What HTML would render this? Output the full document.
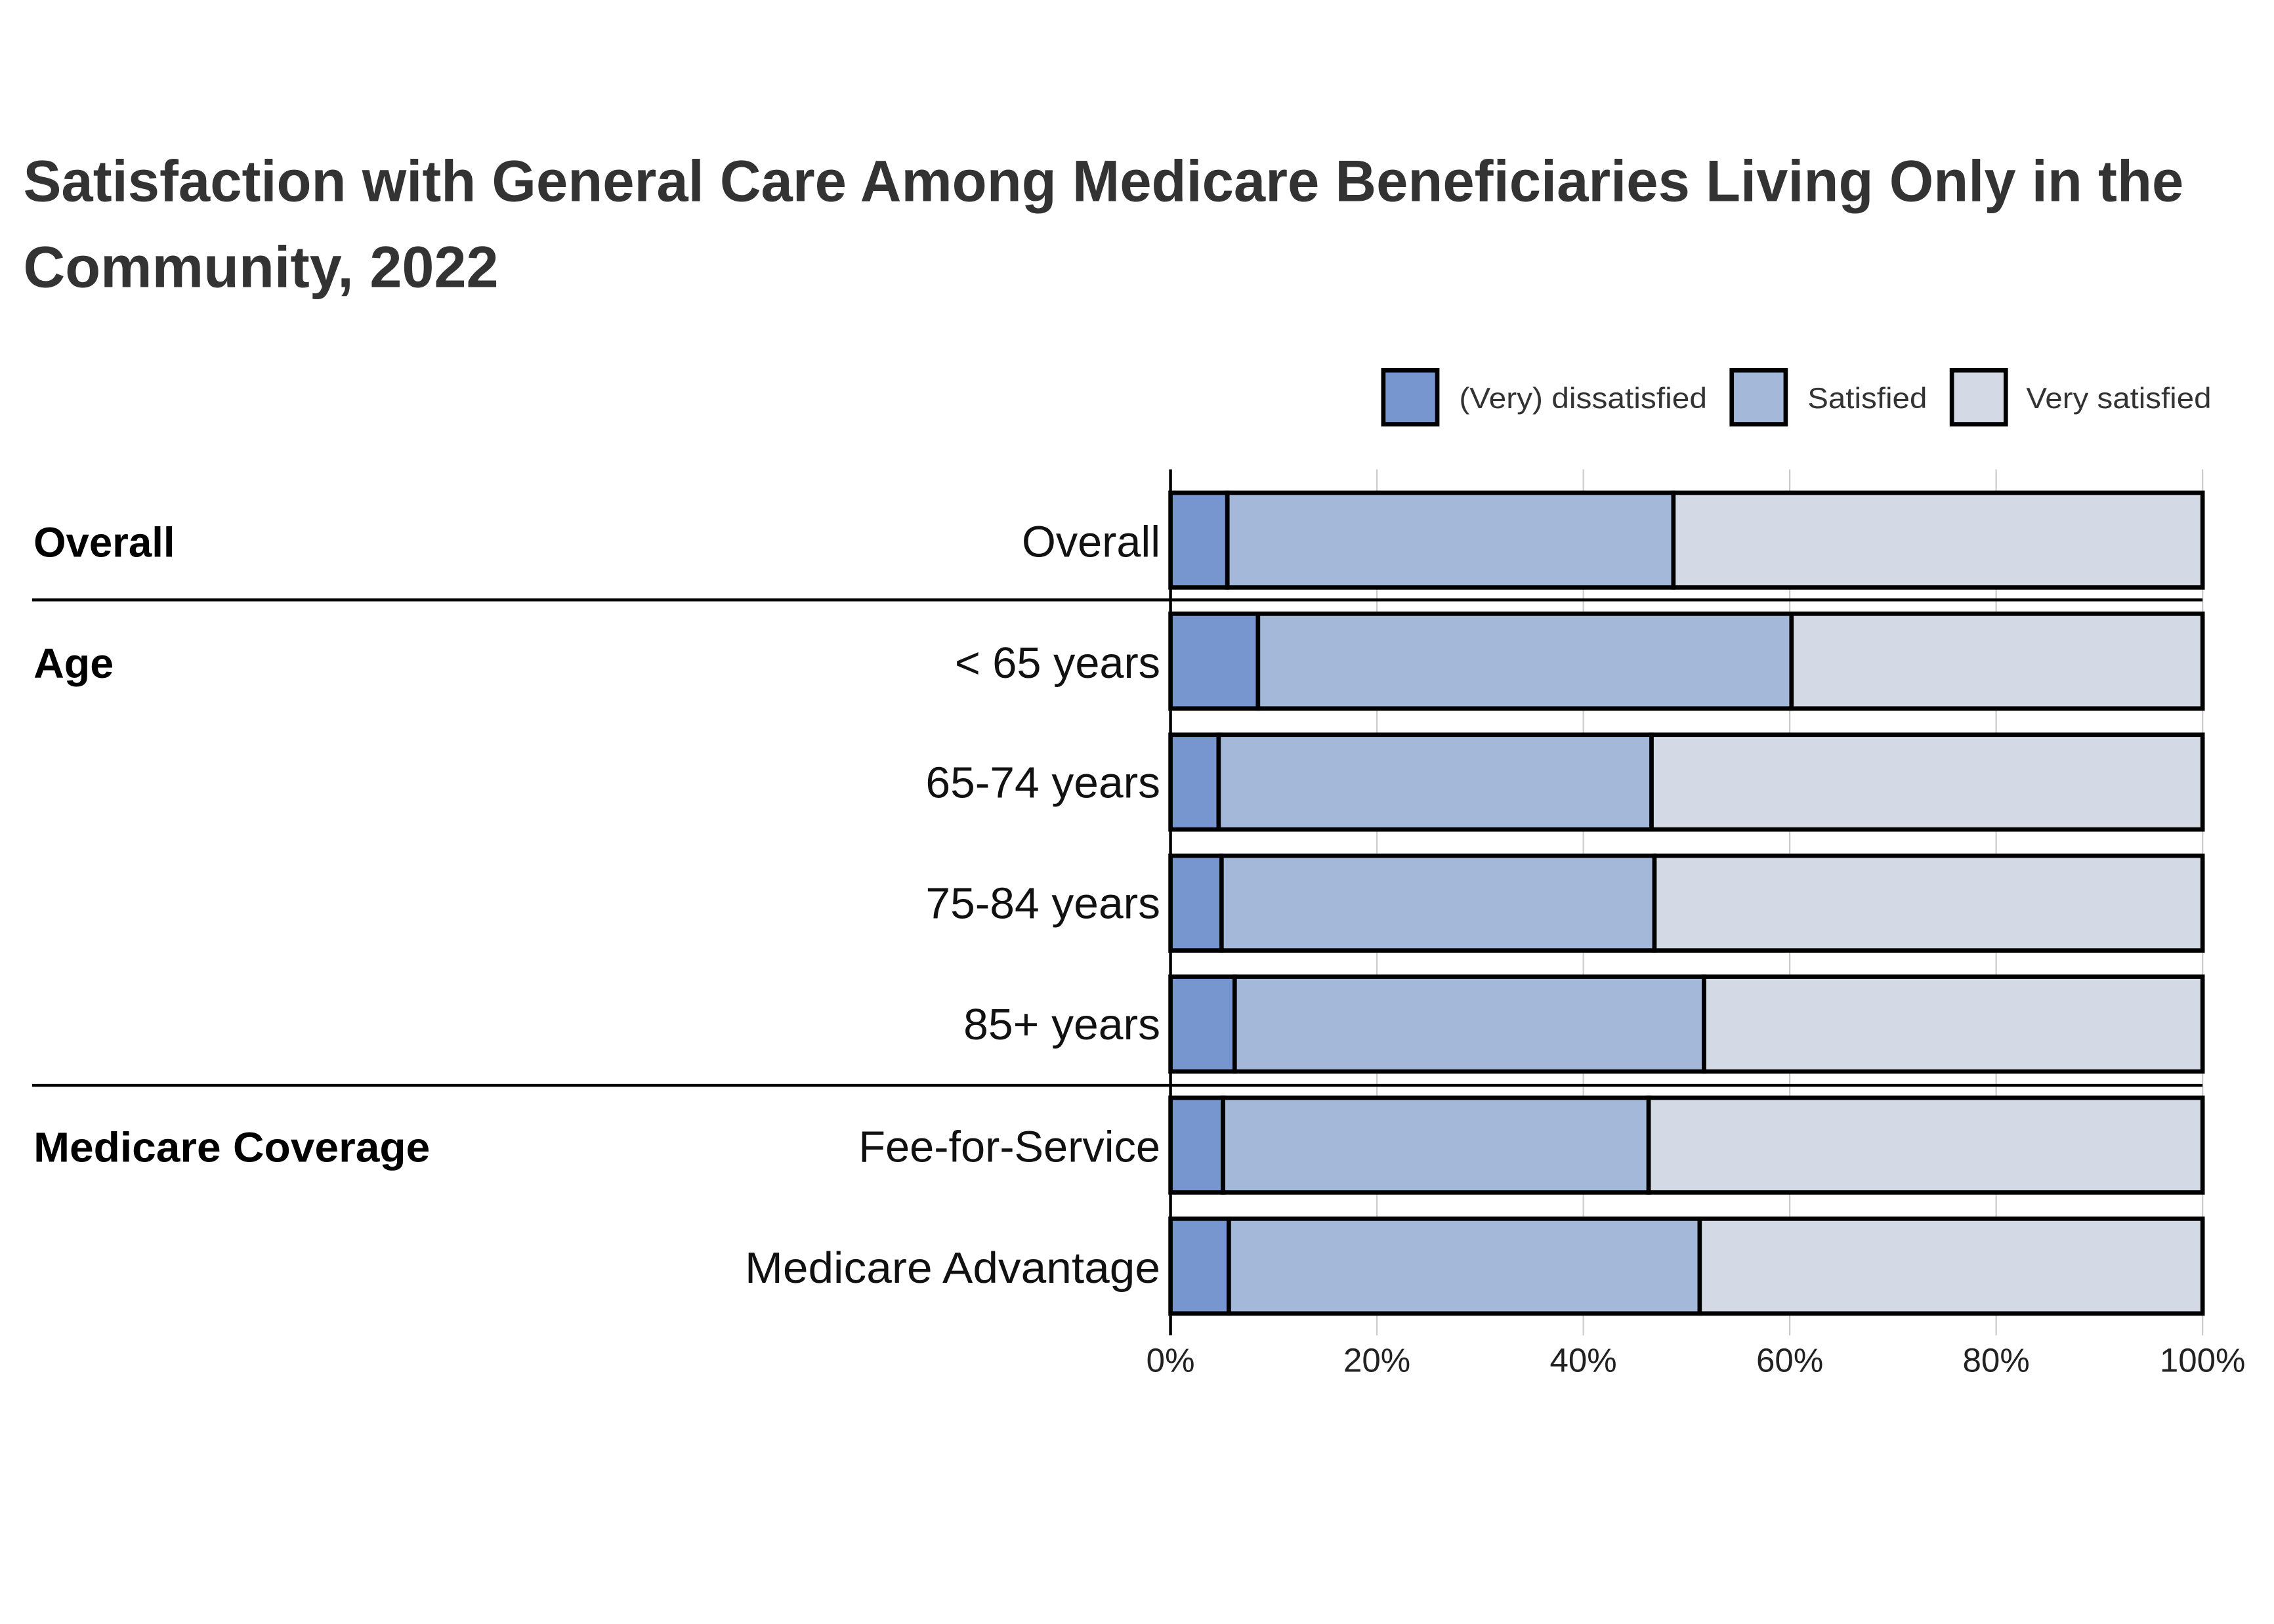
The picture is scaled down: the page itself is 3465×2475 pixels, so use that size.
<!DOCTYPE html>
<html><head><meta charset="utf-8"><style>
html,body{margin:0;padding:0;background:#fff}
svg{display:block}
text{font-family:"Liberation Sans",sans-serif}
</style></head><body>
<svg width="3465" height="2475" viewBox="0 0 1560 1114" preserveAspectRatio="none" xmlns="http://www.w3.org/2000/svg">
<rect width="1560" height="1114" fill="#fff"/>
<text x="16" y="138" font-size="40" font-weight="bold" fill="#333" textLength="1482" lengthAdjust="spacingAndGlyphs">Satisfaction with General Care Among Medicare Beneficiaries Living Only in the</text>
<text x="16" y="197" font-size="40" font-weight="bold" fill="#333" textLength="326" lengthAdjust="spacingAndGlyphs">Community, 2022</text>
<g stroke="#000" stroke-width="3">
<rect x="949" y="254" width="37" height="37" fill="#7796cf"/>
<rect x="1188" y="254" width="37" height="37" fill="#a4b8da"/>
<rect x="1339" y="254" width="37" height="37" fill="#d3dae5"/>
</g>
<g font-size="20" fill="#333">
<text x="1001" y="280" textLength="170" lengthAdjust="spacingAndGlyphs">(Very) dissatisfied</text>
<text x="1240" y="280" textLength="82" lengthAdjust="spacingAndGlyphs">Satisfied</text>
<text x="1390" y="280" textLength="127" lengthAdjust="spacingAndGlyphs">Very satisfied</text>
</g>
<g stroke="#ccc" stroke-width="1">
<line x1="944.6" y1="322" x2="944.6" y2="916"/>
<line x1="1086.2" y1="322" x2="1086.2" y2="916"/>
<line x1="1227.8" y1="322" x2="1227.8" y2="916"/>
<line x1="1369.4" y1="322" x2="1369.4" y2="916"/>
<line x1="1511" y1="322" x2="1511" y2="916"/>
</g>
<line x1="803" y1="322" x2="803" y2="916" stroke="#000" stroke-width="2"/>
<g stroke="#000" stroke-width="3">
<rect x="803" y="338" width="39" height="65" fill="#7796cf"/><rect x="842" y="338" width="306" height="65" fill="#a4b8da"/><rect x="1148" y="338" width="363" height="65" fill="#d3dae5"/>
<rect x="803" y="421" width="60" height="65" fill="#7796cf"/><rect x="863" y="421" width="366" height="65" fill="#a4b8da"/><rect x="1229" y="421" width="282" height="65" fill="#d3dae5"/>
<rect x="803" y="504" width="33" height="65" fill="#7796cf"/><rect x="836" y="504" width="297" height="65" fill="#a4b8da"/><rect x="1133" y="504" width="378" height="65" fill="#d3dae5"/>
<rect x="803" y="587" width="35" height="65" fill="#7796cf"/><rect x="838" y="587" width="297" height="65" fill="#a4b8da"/><rect x="1135" y="587" width="376" height="65" fill="#d3dae5"/>
<rect x="803" y="670" width="44" height="65" fill="#7796cf"/><rect x="847" y="670" width="322" height="65" fill="#a4b8da"/><rect x="1169" y="670" width="342" height="65" fill="#d3dae5"/>
<rect x="803" y="753" width="36" height="65" fill="#7796cf"/><rect x="839" y="753" width="292" height="65" fill="#a4b8da"/><rect x="1131" y="753" width="380" height="65" fill="#d3dae5"/>
<rect x="803" y="836" width="40" height="65" fill="#7796cf"/><rect x="843" y="836" width="323" height="65" fill="#a4b8da"/><rect x="1166" y="836" width="345" height="65" fill="#d3dae5"/>
</g>
<g stroke="#000" stroke-width="2">
<line x1="22" y1="411.5" x2="1511" y2="411.5"/>
<line x1="22" y1="744.5" x2="1511" y2="744.5"/>
</g>
<g font-size="29" font-weight="bold" fill="#000">
<text x="23" y="382" textLength="97" lengthAdjust="spacingAndGlyphs">Overall</text>
<text x="23" y="465" textLength="55" lengthAdjust="spacingAndGlyphs">Age</text>
<text x="23" y="797" textLength="272" lengthAdjust="spacingAndGlyphs">Medicare Coverage</text>
</g>
<g font-size="30" fill="#111" text-anchor="end">
<text x="796" y="382" textLength="95" lengthAdjust="spacingAndGlyphs">Overall</text>
<text x="796" y="465" textLength="141" lengthAdjust="spacingAndGlyphs">&lt; 65 years</text>
<text x="796" y="547" textLength="161" lengthAdjust="spacingAndGlyphs">65-74 years</text>
<text x="796" y="630" textLength="161" lengthAdjust="spacingAndGlyphs">75-84 years</text>
<text x="796" y="713" textLength="135" lengthAdjust="spacingAndGlyphs">85+ years</text>
<text x="796" y="797" textLength="207" lengthAdjust="spacingAndGlyphs">Fee-for-Service</text>
<text x="796" y="880" textLength="285" lengthAdjust="spacingAndGlyphs">Medicare Advantage</text>
</g>
<g font-size="23" fill="#222" text-anchor="middle">
<text x="803" y="941">0%</text>
<text x="944.6" y="941">20%</text>
<text x="1086.2" y="941">40%</text>
<text x="1227.8" y="941">60%</text>
<text x="1369.4" y="941">80%</text>
<text x="1511" y="941">100%</text>
</g>
</svg>
</body></html>
